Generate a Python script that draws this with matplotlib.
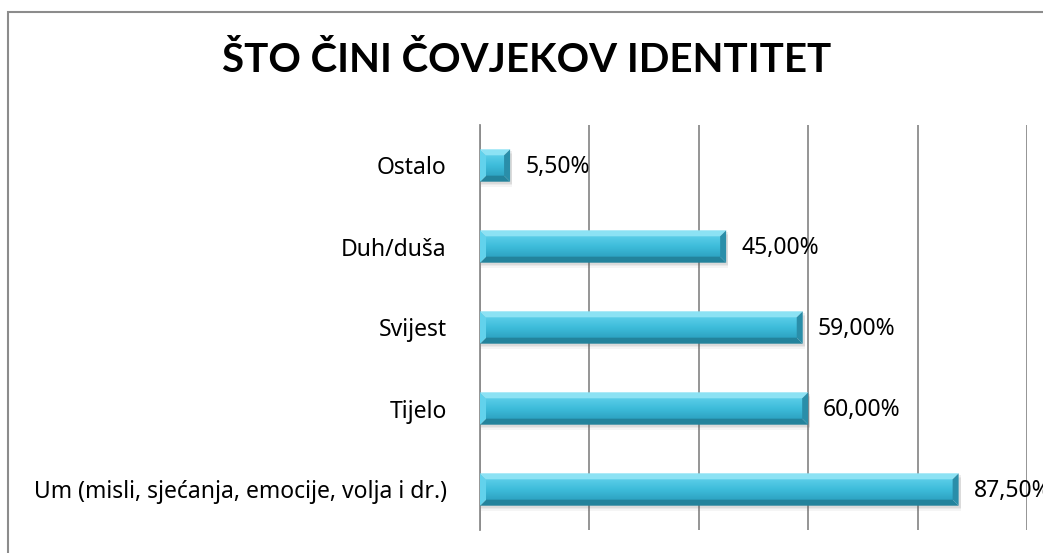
import matplotlib.pyplot as plt
import numpy as np
from matplotlib.patches import Polygon, Rectangle

# podaci (odozdo prema gore)
kategorije = ['Um (misli, sjećanja, emocije, volja i dr.)', 'Tijelo', 'Svijest', 'Duh/duša', 'Ostalo']
postotci = [0.875, 0.60, 0.59, 0.45, 0.055]
oznake = ['87,50%', '60,00%', '59,00%', '45,00%', '5,50%']

plt.rcParams['font.family'] = ['Noto Sans', 'DejaVu Sans']

fig = plt.figure(figsize=(10.43, 5.53), dpi=100)
ax = fig.add_axes([480 / 1043, 1 - 530 / 553, 547 / 1043, 405 / 553])

# okvir grafikona
fig.patches.append(Rectangle((8 / 1043, -0.1), 1.2, 1 - 12.5 / 553 + 0.1,
                             transform=fig.transFigure, fill=False,
                             edgecolor='#8c8c8c', linewidth=1.5))

ax.set_xlim(0, 1)
ax.set_ylim(-0.5, len(kategorije) - 0.5)

h = 0.2  # pola visine stupca
bx = 6 / 547
by = 6 / 81

grad = np.linspace(0, 1, 64).reshape(-1, 1)
cmap = plt.matplotlib.colors.LinearSegmentedColormap.from_list(
    'plava', ['#2ea3c2', '#3dbcda', '#5acde8'])

for i, v in enumerate(postotci):
    y0, y1 = i - h, i + h
    # sjena
    for k, a in [(5, 0.06), (3.5, 0.08), (2, 0.1)]:
        d = k / 81
        ax.add_patch(Rectangle((0.002, y0 - d), v + 0.002, y1 - y0,
                               facecolor='#606060', alpha=a, edgecolor='none', zorder=2))
    # glavna ploha s prijelazom boje
    ax.imshow(grad, extent=(bx, v - bx, y0 + by, y1 - by), origin='lower',
              cmap=cmap, aspect='auto', zorder=3)
    # gornja ploha
    ax.add_patch(Polygon([(0, y1), (v, y1), (v - bx, y1 - by), (bx, y1 - by)],
                         closed=True, facecolor='#8ce2f4', edgecolor='none', zorder=4))
    # donja ploha
    ax.add_patch(Polygon([(0, y0), (v, y0), (v - bx, y0 + by), (bx, y0 + by)],
                         closed=True, facecolor='#23839c', edgecolor='none', zorder=4))
    # lijeva ploha
    ax.add_patch(Polygon([(0, y0), (0, y1), (bx, y1 - by), (bx, y0 + by)],
                         closed=True, facecolor='#62d2ec', edgecolor='none', zorder=4))
    # desna ploha
    ax.add_patch(Polygon([(v, y0), (v, y1), (v - bx, y1 - by), (v - bx, y0 + by)],
                         closed=True, facecolor='#2a8ea9', edgecolor='none', zorder=4))
    ax.text(v + 15 / 547, i - 0.02, oznake[i], va='center', ha='left',
            fontsize=16.5, color='black', zorder=6)

ax.set_xticks(np.arange(0, 1.01, 0.2))
ax.set_xticklabels([])
ax.tick_params(axis='x', length=0)
ax.grid(axis='x', color='#8c8c8c', linewidth=1.3, zorder=1)
ax.set_axisbelow(True)

ax.set_yticks(range(len(kategorije)))
ax.set_yticklabels(kategorije, fontsize=16.5)
ax.tick_params(axis='y', length=0, pad=24)

for s in ['top', 'right', 'bottom']:
    ax.spines[s].set_visible(False)
ax.spines['left'].set_color('#8c8c8c')
ax.spines['left'].set_linewidth(1.3)

fig.text(527 / 1043, 1 - 61 / 553, 'ŠTO ČINI ČOVJEKOV IDENTITET', ha='center', va='center',
         fontsize=29, fontweight='bold', family=['Lato', 'DejaVu Sans'])

fig.savefig('out.png', dpi=100)
